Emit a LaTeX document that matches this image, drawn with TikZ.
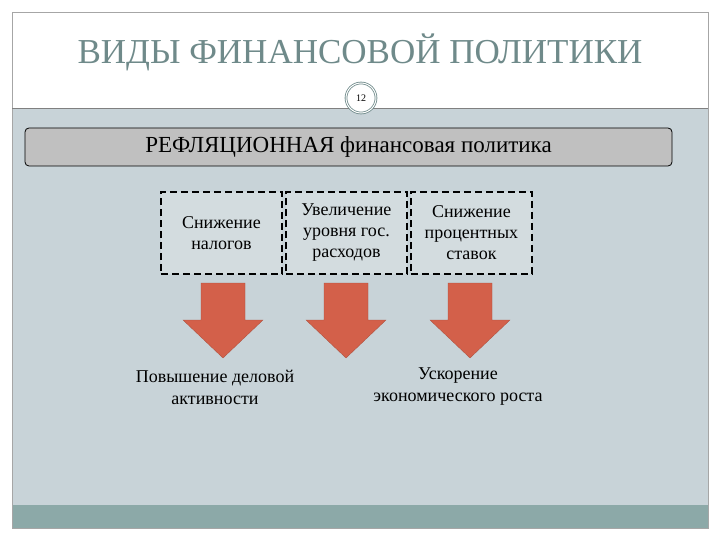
\documentclass[tikz,border=0pt]{standalone}
\usepackage{fontspec}
\setmainfont{Liberation Serif}
\definecolor{bgc}{HTML}{C8D3D8}
\definecolor{band}{HTML}{8CA9A8}
\definecolor{ttl}{HTML}{6F8A8A}
\definecolor{arr}{HTML}{D3604A}
\definecolor{boxf}{HTML}{D3DCDF}
\definecolor{ban}{HTML}{C0C0C0}
\begin{document}
\begin{tikzpicture}[x=1pt,y=-1pt,
  dbox/.style={draw,dash pattern=on 7pt off 4pt,line width=1.8pt,fill=boxf,minimum width=121pt,minimum height=82pt,align=center,font=\fontsize{18}{21}\selectfont,inner sep=1pt,anchor=north west},
  lbl/.style={align=center,font=\fontsize{18}{22}\selectfont},
  bigarrow/.style={fill=arr,draw=arr!80!black,line width=0.3pt}]
\useasboundingbox (0,0) rectangle (720,540);
\fill[white] (0,0) rectangle (720,540);
\fill[bgc] (12,108) rectangle (708,505);
\fill[band] (12,505) rectangle (708,528);
\draw[gray!70,line width=0.6pt] (12,12) rectangle (708,528);
\draw[gray,line width=0.8pt] (12,108) -- (708,108);
\node[circle,fill=white,draw=ttl,double=white,double distance=1pt,line width=0.8pt,minimum size=30pt,inner sep=0pt,font=\fontsize{10}{11}\selectfont] (num) at (361,98) {12};
\node[text=ttl,font=\fontsize{35}{38}\selectfont] (title) at (360,52) {ВИДЫ ФИНАНСОВОЙ ПОЛИТИКИ};
\node[draw,rounded corners=4pt,fill=ban,line width=0.8pt,minimum width=647pt,minimum height=38pt,font=\fontsize{23}{25}\selectfont] (banner) at (348.5,147) {РЕФЛЯЦИОННАЯ финансовая политика};
\node[dbox] (b1) at (160,191) {Снижение\\налогов};
\node[dbox] (b2) at (285,191) {Увеличение\\уровня гос.\\расходов};
\node[dbox] (b3) at (410,191) {Снижение\\процентных\\ставок};
\foreach \c in {223,346,470}{
  \draw[bigarrow] (\c-22,283) -- (\c+22,283) -- (\c+22,320) -- (\c+40,320) -- (\c,358) -- (\c-40,320) -- (\c-22,320) -- cycle;
}
\node[lbl] (r1) at (215,387) {Повышение деловой\\активности};
\node[lbl] (r2) at (458,387) {Ускорение\\экономического роста};
\end{tikzpicture}
\end{document}
